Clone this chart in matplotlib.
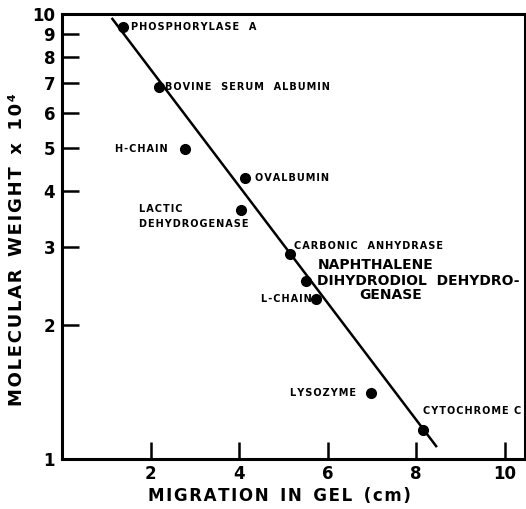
import matplotlib
matplotlib.use("Agg")
import matplotlib.pyplot as plt
from matplotlib.ticker import FixedLocator, FixedFormatter, NullLocator

# ---- data ----
proteins = ["PHOSPHORYLASE  A", "BOVINE  SERUM  ALBUMIN", "H-CHAIN", "OVALBUMIN",
            "LACTIC\nDEHYDROGENASE", "CARBONIC  ANHYDRASE", "NAPHTHALENE",
            "L-CHAIN", "LYSOZYME", "CYTOCHROME C"]
migration = [1.37, 2.18, 2.77, 4.13, 4.04, 5.15, 5.52, 5.74, 6.99, 8.15]
mol_weight = [9.35, 6.85, 4.97, 4.28, 3.63, 2.89, 2.51, 2.29, 1.41, 1.16]

fit_x = [1.12, 8.47]
fit_y = [9.8, 1.064]

x_ticks = [2, 4, 6, 8, 10]
x_ticklabels = ["2", "4", "6", "8", "10"]
y_ticks = [1, 2, 3, 4, 5, 6, 7, 8, 9, 10]
y_ticklabels = ["1", "2", "3", "4", "5", "6", "7", "8", "9", "10"]

HS = "\u200a"


def spaced(s):
    return "\n".join(HS.join(line) for line in s.split("\n"))


fig = plt.figure(figsize=(5.26, 5.09), dpi=100)
ax = fig.add_axes([0.118, 0.098, 0.880, 0.8745])

ax.set_yscale("log")
ax.set_xlim(0, 10.46)
ax.set_ylim(1, 10)

ax.plot(fit_x, fit_y, color="black", lw=1.8, solid_capstyle="butt")
ax.plot(migration, mol_weight, "o", color="black", ms=7, zorder=3)

small = dict(fontsize=7, fontweight="bold", color="black", va="center")
# annotations (offsets in points relative to each point)
offs = {
    0: (6, 0, "left"),
    1: (5, 0, "left"),
    2: (-12, 0, "right"),
    3: (7, 0, "left"),
    5: (3, 6, "left"),
    7: (-3, 0, "right"),
    8: (-11, 0, "right"),
    9: (0, 14, "left"),
}
for i, (dx, dy, ha) in offs.items():
    ax.annotate(spaced(proteins[i]), (migration[i], mol_weight[i]),
                xytext=(dx, dy), textcoords="offset points", ha=ha, **small)
# lactic dehydrogenase (two lines, to the left)
ax.annotate(spaced(proteins[4]), (migration[4], mol_weight[4]),
            xytext=(-73, -5), textcoords="offset points", ha="left",
            linespacing=1.6, **small)
# naphthalene dihydrodiol dehydrogenase (larger text)
big = dict(fontsize=10, fontweight="semibold", color="black", va="center",
           textcoords="offset points", ha="left")
ax.annotate("NAPHTHALENE", (migration[6], mol_weight[6]), xytext=(8, 12), **big)
ax.annotate("DIHYDRODIOL  DEHYDRO-", (migration[6], mol_weight[6]), xytext=(8, 0), **big)
ax.annotate("GENASE", (migration[6], mol_weight[6]), xytext=(38, -10), **big)

# axes styling
for sp in ax.spines.values():
    sp.set_linewidth(2.2)
    sp.set_color("black")

ax.xaxis.set_major_locator(FixedLocator(x_ticks))
ax.xaxis.set_major_formatter(FixedFormatter(x_ticklabels))
ax.yaxis.set_major_locator(FixedLocator(y_ticks))
ax.yaxis.set_major_formatter(FixedFormatter(y_ticklabels))
ax.yaxis.set_minor_locator(NullLocator())
ax.xaxis.set_minor_locator(NullLocator())
ax.tick_params(axis="both", which="major", direction="in", length=12, width=1.8,
               labelsize=12, colors="black")
ax.tick_params(axis="x", pad=4)
ax.tick_params(axis="y", pad=5)
for lab in ax.get_xticklabels() + ax.get_yticklabels():
    lab.set_fontweight("bold")

ax.set_xlabel(HS.join("MIGRATION") + "  " + HS.join("IN") + "  " + HS.join("GEL") + "  " + HS.join("(cm)"),
              fontsize=12, fontweight="bold")
ax.set_ylabel(HS.join("MOLECULAR") + "  " + HS.join("WEIGHT") + "  x  " + HS.join("10\u2074"),
              fontsize=13, fontweight="bold")
ax.xaxis.set_label_coords(0.47, -0.062)
ax.yaxis.set_label_coords(-0.077, 0.47)

fig.savefig("out.png", dpi=100)
